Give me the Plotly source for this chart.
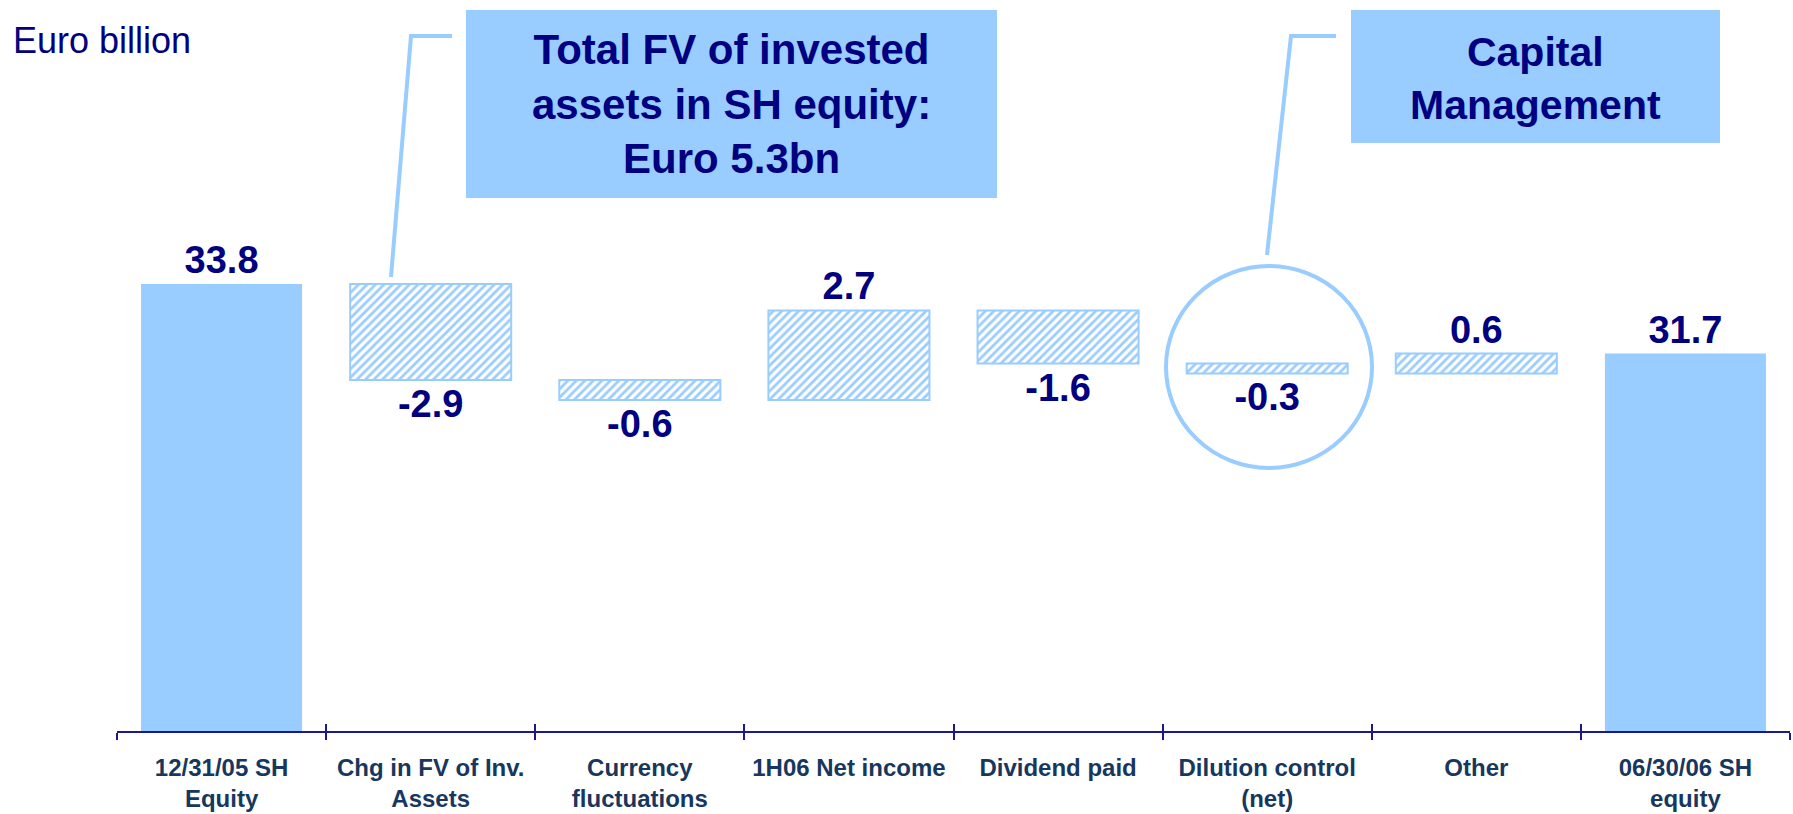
import plotly.graph_objects as go

# ---------------- data ----------------
categories = [
    "12/31/05 SH<br>Equity",
    "Chg in FV of Inv.<br>Assets",
    "Currency<br>fluctuations",
    "1H06 Net income",
    "Dividend paid",
    "Dilution control<br>(net)",
    "Other",
    "06/30/06 SH<br>equity",
]
start_total = 33.8
changes = [-2.9, -0.6, 2.7, -1.6, -0.3, 0.6]
end_total = 31.7
unit_label = "Euro billion"
box1_text = "Total FV of invested<br>assets in SH equity:<br>Euro 5.3bn"
box2_text = "Capital<br>Management"

# ---------------- styling ----------------
W, H = 1793, 814
L, R, T, B = 117, 3, 0, 83
Y0, Y1 = 20.31, 42.37
LIGHT = "#99CCFF"
NAVY = "#000080"
TICKCOL = "#17375E"
FONT = "Liberation Sans, Arial, sans-serif"

# cumulative bases for the floating bars
bases = []
running = start_total
for c in changes:
    bases.append(round(running, 2))
    running = round(running + c, 2)

fig = go.Figure()

fig.add_trace(go.Bar(
    x=[categories[0], categories[-1]],
    y=[start_total, end_total],
    base=[0, 0],
    width=0.77,
    marker=dict(color=LIGHT, line=dict(width=0)),
    text=[f"{start_total:.1f}", f"{end_total:.1f}"],
    textposition="outside",
    textfont=dict(family=FONT, size=38, color=NAVY, weight="bold"),
    constraintext="none",
    cliponaxis=False,
    showlegend=False,
    hoverinfo="skip",
))

fig.add_trace(go.Bar(
    x=categories[1:-1],
    y=changes,
    base=bases,
    width=0.77,
    marker=dict(
        color="white",
        line=dict(color=LIGHT, width=2),
        pattern=dict(shape="/", fgcolor=LIGHT, bgcolor="white",
                     size=6, solidity=0.45, fillmode="replace"),
    ),
    text=[f"{c:.1f}" for c in changes],
    textposition="outside",
    textfont=dict(family=FONT, size=38, color=NAVY, weight="bold"),
    constraintext="none",
    cliponaxis=False,
    showlegend=False,
    hoverinfo="skip",
))

# dummy trace so the overlay axis knows the categories (inner tick marks)
fig.add_trace(go.Scatter(
    x=categories, y=[None] * len(categories), xaxis="x2", yaxis="y",
    mode="markers", showlegend=False, hoverinfo="skip",
))

# pixel -> data helpers for the call-out decorations
pw = W - L - R
ph = H - T - B
def px2x(px):
    return (px - L) / pw * len(categories) - 0.5
def py2y(py):
    return Y0 + (T + ph - py) / ph * (Y1 - Y0)

shapes = [
    # box 1
    dict(type="rect", xref="x", yref="y",
         x0=px2x(466), x1=px2x(997), y0=py2y(198), y1=py2y(10),
         fillcolor=LIGHT, line=dict(width=0), layer="below"),
    # box 2
    dict(type="rect", xref="x", yref="y",
         x0=px2x(1351), x1=px2x(1720), y0=py2y(143), y1=py2y(10),
         fillcolor=LIGHT, line=dict(width=0), layer="below"),
    # callout 1
    dict(type="path", xref="x", yref="y",
         path=f"M {px2x(452)} {py2y(36)} L {px2x(411)} {py2y(36)} L {px2x(391)} {py2y(277)}",
         line=dict(color=LIGHT, width=4)),
    # callout 2
    dict(type="path", xref="x", yref="y",
         path=f"M {px2x(1336)} {py2y(36)} L {px2x(1291)} {py2y(36)} L {px2x(1267)} {py2y(255)}",
         line=dict(color=LIGHT, width=4)),
    # ellipse
    dict(type="circle", xref="x", yref="y",
         x0=px2x(1166), x1=px2x(1372), y0=py2y(468), y1=py2y(266),
         line=dict(color=LIGHT, width=4), fillcolor="rgba(0,0,0,0)"),
]

annotations = [
    dict(text=unit_label, xref="paper", yref="paper",
         x=(11 - L) / pw, y=1 - (40 - T) / ph, xanchor="left", yanchor="middle",
         showarrow=False, font=dict(family=FONT, size=36, color=NAVY)),
    dict(text=box1_text, xref="x", yref="y",
         x=px2x(731), y=py2y(104), xanchor="center", yanchor="middle",
         showarrow=False, align="center",
         font=dict(family=FONT, size=42, color=NAVY, weight="bold")),
    dict(text=box2_text, xref="x", yref="y",
         x=px2x(1535), y=py2y(78), xanchor="center", yanchor="middle",
         showarrow=False, align="center",
         font=dict(family=FONT, size=41, color=NAVY, weight="bold")),
]

fig.update_layout(
    width=W, height=H,
    margin=dict(l=L, r=R, t=T, b=B, pad=0),
    paper_bgcolor="white", plot_bgcolor="white",
    barmode="overlay",
    font=dict(family=FONT),
    xaxis=dict(
        type="category", categoryorder="array", categoryarray=categories,
        range=[-0.5, len(categories) - 0.5],
        tickson="boundaries", ticks="outside", ticklen=7, tickwidth=2,
        tickcolor="#1a1a8c",
        showline=True, linecolor="#1a1a8c", linewidth=2,
        showgrid=False, zeroline=False,
        tickfont=dict(family=FONT, size=24, color=TICKCOL, weight="bold"),
        ticklabelstandoff=14,
    ),
    xaxis2=dict(
        type="category", categoryorder="array", categoryarray=categories,
        overlaying="x", anchor="y", side="bottom",
        range=[-0.5, len(categories) - 0.5],
        tickson="boundaries", ticks="inside", ticklen=7, tickwidth=2,
        tickcolor="#1a1a8c",
        showticklabels=False, showline=False, showgrid=False, zeroline=False,
    ),
    yaxis=dict(range=[Y0, Y1], visible=False, showgrid=False, zeroline=False),
    shapes=shapes,
    annotations=annotations,
)

fig.write_html("out.html", config={"displayModeBar": False},
               post_script="document.body.style.margin='0';")
